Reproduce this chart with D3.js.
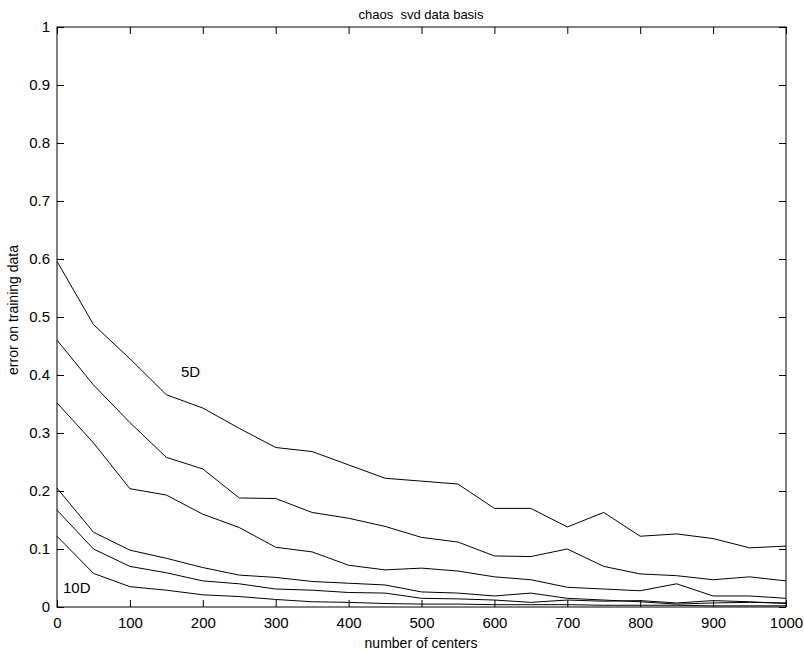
<!DOCTYPE html>
<html>
<head>
<meta charset="utf-8">
<script src="https://cdn.jsdelivr.net/npm/d3@7"></script>
<style>
  body { margin: 0; background: #fff; }
  svg text { font-family: "Liberation Sans", Arial, sans-serif; fill: #000; white-space: pre; }
</style>
</head>
<body>
<svg width="804" height="652"></svg>
<script>
// number of centers
var centers = [0, 50, 100, 150, 200, 250, 300, 350, 400, 450, 500,
               550, 600, 650, 700, 750, 800, 850, 900, 950, 1000];

// error on training data, 5D ... 10D
var err5D  = [0.596, 0.487, 0.428, 0.366, 0.343, 0.308, 0.275, 0.268, 0.245, 0.222, 0.217,
              0.212, 0.170, 0.170, 0.138, 0.163, 0.122, 0.126, 0.118, 0.102, 0.105];
var err6D  = [0.460, 0.383, 0.318, 0.258, 0.238, 0.188, 0.187, 0.163, 0.153, 0.139, 0.120,
              0.112, 0.088, 0.087, 0.100, 0.070, 0.057, 0.054, 0.047, 0.052, 0.045];
var err7D  = [0.352, 0.283, 0.204, 0.193, 0.160, 0.137, 0.103, 0.095, 0.072, 0.064, 0.067,
              0.062, 0.052, 0.047, 0.034, 0.031, 0.028, 0.040, 0.019, 0.019, 0.015];
var err8D  = [0.205, 0.129, 0.098, 0.084, 0.068, 0.055, 0.051, 0.044, 0.041, 0.038, 0.026,
              0.024, 0.019, 0.024, 0.015, 0.012, 0.009, 0.005, 0.007, 0.008, 0.007];
var err9D  = [0.167, 0.100, 0.070, 0.059, 0.045, 0.040, 0.031, 0.029, 0.025, 0.024, 0.015,
              0.014, 0.012, 0.008, 0.012, 0.010, 0.011, 0.007, 0.011, 0.009, 0.006];
var err10D = [0.122, 0.058, 0.035, 0.029, 0.021, 0.018, 0.013, 0.009, 0.008, 0.006, 0.005,
              0.005, 0.004, 0.004, 0.004, 0.003, 0.003, 0.003, 0.002, 0.002, 0.002];

var series = [err5D, err6D, err7D, err8D, err9D, err10D];

var xTicks = [0, 100, 200, 300, 400, 500, 600, 700, 800, 900, 1000];
var yTicks = [0, 0.1, 0.2, 0.3, 0.4, 0.5, 0.6, 0.7, 0.8, 0.9, 1];

const svg = d3.select("svg");
var plotLeft = 57, plotRight = 786, plotTop = 27, plotBottom = 607;

var x = d3.scaleLinear().domain([0, 1000]).range([plotLeft, plotRight]);
var y = d3.scaleLinear().domain([0, 1]).range([plotBottom, plotTop]);

// frame
svg.append("rect")
  .attr("x", plotLeft).attr("y", plotTop)
  .attr("width", plotRight - plotLeft).attr("height", plotBottom - plotTop)
  .attr("fill", "none").attr("stroke", "#000").attr("stroke-width", 1);

// inward ticks on all four sides
function fmt(d) { return d3.format("~g")(d); }

svg.append("g").attr("transform", "translate(0," + plotBottom + ")")
  .call(d3.axisBottom(x).tickValues(xTicks).tickSize(-7).tickPadding(10).tickFormat(fmt))
  .call(g => g.select(".domain").remove());
svg.append("g").attr("transform", "translate(0," + plotTop + ")")
  .call(d3.axisTop(x).tickValues(xTicks).tickSize(-7).tickFormat(""))
  .call(g => g.select(".domain").remove());
svg.append("g").attr("transform", "translate(" + plotLeft + ",0)")
  .call(d3.axisLeft(y).tickValues(yTicks).tickSize(-7).tickPadding(7).tickFormat(fmt))
  .call(g => g.select(".domain").remove());
svg.append("g").attr("transform", "translate(" + plotRight + ",0)")
  .call(d3.axisRight(y).tickValues(yTicks).tickSize(-7).tickFormat(""))
  .call(g => g.select(".domain").remove());

svg.selectAll(".tick line").attr("stroke", "#000");
svg.selectAll(".tick text").attr("font-size", 15).attr("fill", "#000")
  .style("font-family", "Liberation Sans, Arial, sans-serif");

// lines
var line = d3.line()
  .x(function (d, i) { return x(centers[i]); })
  .y(function (d) { return y(d); });

svg.append("g")
  .selectAll("path")
  .data(series)
  .join("path")
  .attr("d", line)
  .attr("fill", "none")
  .attr("stroke", "#000")
  .attr("stroke-width", 1);

// labels
svg.append("text").attr("x", 421).attr("y", 19)
  .attr("text-anchor", "middle").attr("font-size", 13)
  .text("chaos  svd data basis");
svg.append("text").attr("x", 421).attr("y", 648)
  .attr("text-anchor", "middle").attr("font-size", 14)
  .text("number of centers");
svg.append("text")
  .attr("transform", "translate(18,310) rotate(-90)")
  .attr("text-anchor", "middle").attr("font-size", 14)
  .text("error on training data");
svg.append("text").attr("x", 181).attr("y", 377).attr("font-size", 15).text("5D");
svg.append("text").attr("x", 63).attr("y", 593).attr("font-size", 15).text("10D");
</script>
</body>
</html>
